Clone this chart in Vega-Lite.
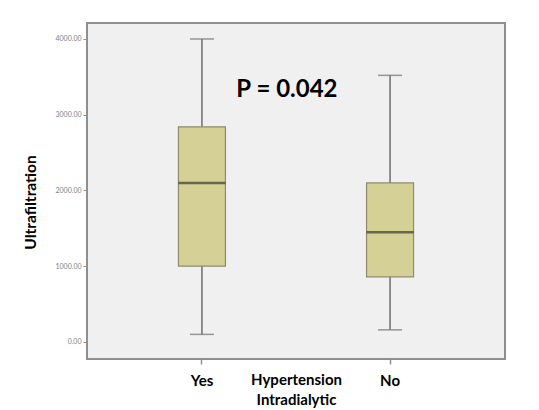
{
  "$schema": "https://vega.github.io/schema/vega-lite/v6.json",
  "autosize": "none",
  "width": 418,
  "height": 336,
  "padding": {"left": 87, "top": 23, "right": 34, "bottom": 51},
  "background": "white",
  "config": {
    "view": {"fill": "#f0f0f0", "stroke": "#8f8f8f", "strokeWidth": 2},
    "font": "Lato"
  },
  "data": {
    "values": [
      {"group": "Yes", "min": 100, "q1": 1000, "median": 2100, "q3": 2840, "max": 4000},
      {"group": "No", "min": 160, "q1": 860, "median": 1450, "q3": 2100, "max": 3520}
    ]
  },
  "encoding": {
    "x": {
      "field": "group",
      "type": "nominal",
      "sort": ["Yes", "No"],
      "scale": {"type": "band", "paddingInner": 0.5, "paddingOuter": 0.361},
      "axis": {
        "title": ["Hypertension", "Intradialytic"],
        "titleFont": "Lato",
        "titleFontSize": 15,
        "titleFontWeight": "bold",
        "titleColor": "#000",
        "titleBaseline": "top",
        "titleY": 13,
        "titleLineHeight": 20,
        "labelAngle": 0,
        "labelFont": "Lato",
        "labelFontSize": 15,
        "labelFontWeight": "bold",
        "labelColor": "#000",
        "labelPadding": 9,
        "tickSize": 5,
        "tickColor": "#8f8f8f",
        "tickWidth": 1.5,
        "domain": false
      }
    }
  },
  "layer": [
    {
      "mark": {"type": "rule", "color": "#6e6e6e", "strokeWidth": 1.5},
      "encoding": {
        "y": {
          "field": "min",
          "type": "quantitative",
          "scale": {"domain": [-225, 4211], "nice": false, "zero": false},
          "axis": {
            "title": "Ultrafiltration",
            "titleFont": "Lato",
            "titleFontSize": 15.5,
            "titleFontWeight": "bold",
            "titleColor": "#000",
            "titleX": -57,
            "titleY": 179,
            "titleBaseline": "middle",
            "values": [0, 1000, 2000, 3000, 4000],
            "format": ".2f",
            "labelFontSize": 7,
            "labelColor": "#808080",
            "labelPadding": 2,
            "tickSize": 4,
            "tickColor": "#8f8f8f",
            "grid": false,
            "domain": false
          }
        },
        "y2": {"field": "max"}
      }
    },
    {
      "mark": {"type": "tick", "color": "#6e6e6e", "size": 24, "thickness": 1.5},
      "encoding": {"y": {"field": "min", "type": "quantitative"}}
    },
    {
      "mark": {"type": "tick", "color": "#6e6e6e", "size": 24, "thickness": 1.5},
      "encoding": {"y": {"field": "max", "type": "quantitative"}}
    },
    {
      "mark": {"type": "bar", "size": 47, "fill": "#d4d096", "stroke": "#8e8c6c", "strokeWidth": 1.2},
      "encoding": {
        "y": {"field": "q1", "type": "quantitative"},
        "y2": {"field": "q3"}
      }
    },
    {
      "mark": {"type": "tick", "color": "#3c3b2a", "size": 47, "thickness": 2.5},
      "encoding": {"y": {"field": "median", "type": "quantitative"}}
    },
    {
      "data": {"values": [{"label": "P = 0.042", "group": "Yes", "value": 3330}]},
      "mark": {"type": "text", "font": "Lato", "fontSize": 24, "fontWeight": "bold", "color": "#000", "dx": 85, "align": "center", "baseline": "middle"},
      "encoding": {
        "y": {"field": "value", "type": "quantitative"},
        "text": {"field": "label"}
      }
    }
  ]
}
